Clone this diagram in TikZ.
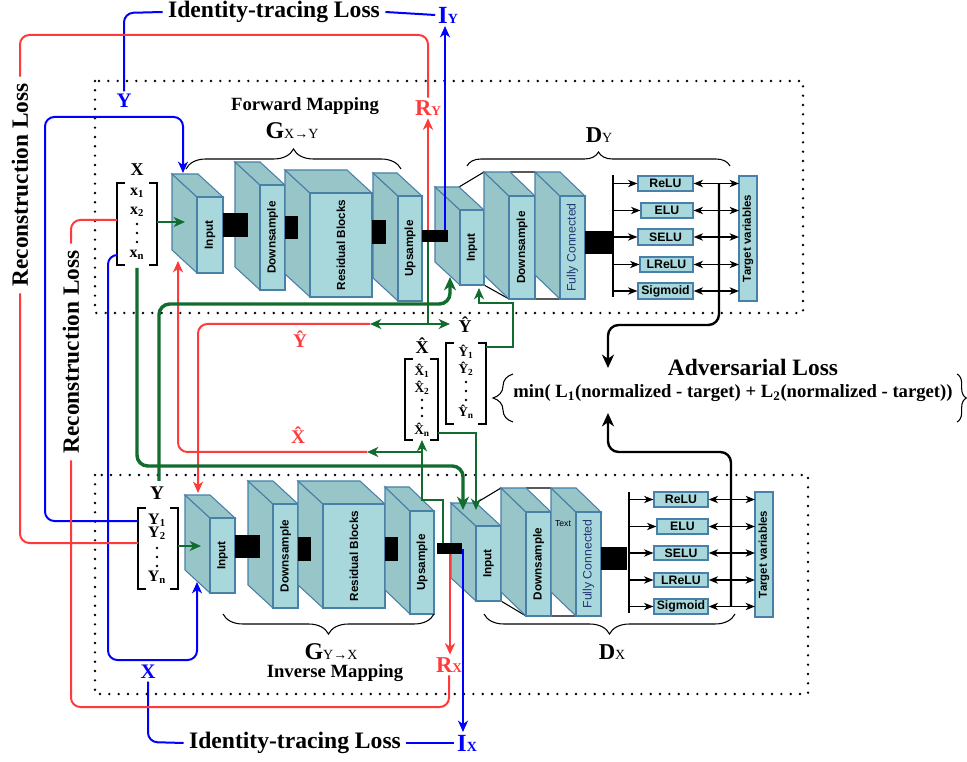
\documentclass[tikz,border=0pt]{standalone}
\usepackage{fontspec}
\setmainfont{Liberation Serif}
\setsansfont{Liberation Sans}
\usetikzlibrary{arrows.meta,decorations.pathreplacing}
\definecolor{frontc}{RGB}{168,216,219}
\definecolor{sidec}{RGB}{151,197,200}
\definecolor{edgec}{RGB}{72,128,168}
\definecolor{bluec}{RGB}{0,0,255}
\definecolor{redc}{RGB}{255,58,58}
\definecolor{greenc}{RGB}{18,108,48}
\definecolor{fcc}{RGB}{35,55,115}
\newcommand{\fsz}[1]{\fontsize{#1}{#1}\selectfont}
\newcommand{\hatc}[1]{\ooalign{#1\cr\hidewidth\raisebox{0.17em}{ˆ}\hidewidth\cr}}
\newcommand{\blk}[7]{%
  \filldraw[blkedge,fill=sidec] (#2,#3) -- (#2-25,#3-#6) -- (#2-25,#5-#6) -- (#2,#5) -- cycle;
  \filldraw[blkedge,fill=sidec] (#2,#3) -- (#2-25,#3-#6) -- (#4-25,#3-#6) -- (#4,#3) -- cycle;
  \filldraw[blkedge,fill=frontc] (#2,#3) rectangle (#4,#5);
  \node[blklabel] (#1) at ({(#2+#4)/2},{(#3+#5)/2}) {#7};}
\newcommand{\actb}[6]{%
  \node[actbox,minimum width={(#4-#2)*0.75pt},minimum height={(#5-#3)*0.75pt}] (#1) at ({(#2+#4)/2},{(#3+#5)/2}) {#6};}
\newcommand{\brk}[4]{%
  \draw[brkline] (#1+8,#2) -- (#1,#2) -- (#1,#4) -- (#1+8,#4) (#3-8,#2) -- (#3,#2) -- (#3,#4) -- (#3-8,#4);}
\newcommand{\tdots}[4]{\fill (#1,#2) circle (1.4) (#1,#3) circle (1.4) (#1,#4) circle (1.4);}
\begin{document}
\begin{tikzpicture}[x=0.75pt,y=-0.75pt,
  dotframe/.style={line width=2pt,dash pattern=on 0pt off 7pt,line cap=round},
  blkedge/.style={draw=edgec,line width=0.8pt},
  blklabel/.style={rotate=90,inner sep=0pt,font=\sffamily\bfseries\fsz{8.8}},
  actbox/.style={draw=edgec,fill=frontc,line width=0.9pt,inner sep=0pt,font=\sffamily\bfseries\fsz{9.2}},
  pyr/.style={line width=0.8pt},
  arw/.style={-{Stealth[length=8.5pt,width=7.5pt,inset=2.5pt]}},
  barw/.style={-{Stealth[length=10pt,width=9pt,inset=3pt]}},
  sarw/.style={-{Stealth[length=7pt,width=5.5pt,inset=2pt]}},
  sdarw/.style={{Stealth[length=7pt,width=5.5pt,inset=2pt]}-{Stealth[length=7pt,width=5.5pt,inset=2pt]}},
  bl/.style={draw=bluec,line width=1.5pt,rounded corners=7pt},
  rd/.style={draw=redc,line width=1.5pt,rounded corners=7pt},
  gthin/.style={draw=greenc,line width=1.5pt},
  gthick/.style={draw=greenc,line width=2.6pt,rounded corners=8pt},
  kline/.style={draw=black,line width=1pt},
  kbold/.style={draw=black,line width=1.8pt,rounded corners=8pt},
  brc/.style={draw=black,line width=0.8pt,decorate,decoration={brace,amplitude=#1}},
  brkline/.style={line width=0.9pt},
  tgstyle/.style={draw=edgec,fill=frontc,line width=0.9pt},
  tglabel/.style={rotate=90,inner sep=0pt,font=\sffamily\bfseries\fsz{8.6}},
]
\useasboundingbox (0,0) rectangle (967,762);
% frames
\draw[dotframe] (95,81) rectangle (803,313);
\draw[dotframe] (95,475) rectangle (808,694);

% perspective lines of the discriminators
\draw[pyr] (459,187) -- (484,172) (484,210) -- (509,196) (484,285) -- (509,299)
  (510,172) -- (535,172) (535,196) -- (560,196) (535,299) -- (560,299);
\draw[pyr] (476,503) -- (501,488) (501,526) -- (526,512) (501,601) -- (526,616)
  (526,488) -- (551,488) (551,512) -- (576,512) (551,616) -- (576,616);

% blocks
\blk{in1}{197}{197}{223}{273}{23}{Input}
\blk{dn1}{260}{185}{285}{290}{23}{Downsample}
\blk{rs1}{310}{193}{372}{297}{23}{Residual Blocks}
\blk{up1}{398}{196}{422}{301}{23}{Upsample}
\blk{dinY}{460}{210}{484}{285}{23}{Input}
\blk{ddnY}{509}{196}{535}{299}{24}{Downsample}
\blk{dfcY}{560}{196}{585}{299}{24}{\mdseries\fsz{9.2}\color{fcc}Fully Connected}
\blk{in2}{210}{518}{235}{593}{23}{Input}
\blk{dn2}{273}{504}{298}{608}{23}{Downsample}
\blk{rs2}{323}{504}{385}{608}{23}{Residual Blocks}
\blk{up2}{410}{511}{434}{614}{24}{Upsample}
\blk{dinX}{476}{526}{501}{601}{23}{Input}
\blk{ddnX}{526}{512}{551}{616}{24}{Downsample}
\blk{dfcX}{576}{512}{601}{616}{24}{\mdseries\fsz{9.2}\color{fcc}Fully Connected}
\node[font=\sffamily\fsz{6.5},inner sep=0pt] (txt) at (563,524) {Text};

% black connectors
\fill (223,213) rectangle (248,237);
\fill (285,216) rectangle (298,239);
\fill (372,220) rectangle (386,244);
\fill (422,230) rectangle (448,242);
\fill (235,535) rectangle (260,558);
\fill (298,537) rectangle (311,561);
\fill (385,537) rectangle (398,561);
\fill (437,543) rectangle (462,554);
\fill (585,231) rectangle (612,254);
\fill (601,547) rectangle (627,570);

% named points
\coordinate (bYr) at (428,230);
\coordinate (bYb) at (445,230);
\coordinate (bYg) at (428,242);
\coordinate (bXg) at (443,543);
\coordinate (bXr) at (450,554);
\coordinate (bXb) at (463,549);
\coordinate (vbY) at (613,175);
\coordinate (vbYb) at (613,297);
\coordinate (vbX) at (629,492);
\coordinate (vbXb) at (629,613);
\coordinate (tgYw) at (739,238);
\coordinate (tgXw) at (755,554);
\coordinate (lossY) at (719,184);
\coordinate (lossX) at (731,606);
\coordinate (advin1) at (608,368);
\coordinate (advin2) at (608,413);
\coordinate (in1tip) at (183,173);
\coordinate (in1in) at (185,222);
\coordinate (in1bot) at (178,261);
\coordinate (in2tip) at (197,582);
\coordinate (in2in) at (201,546);
\coordinate (in2top) at (198,493);
\coordinate (dinYb1) at (450,277);
\coordinate (dinYb2) at (479,288);
\coordinate (dinXt1) at (463,510);
\coordinate (dinXt2) at (476,510);
\coordinate (Xbl) at (117,220);
\coordinate (Xbl2) at (117,255);
\coordinate (Xbr) at (157,222);
\coordinate (Xbb) at (137,268);
\coordinate (Ybl) at (138,521);
\coordinate (Ybin) at (138,543);
\coordinate (Ybr) at (178,546);
\coordinate (Ytt) at (159,481);
\coordinate (Yhr) at (486,347);
\coordinate (Xhr) at (438,433);
\coordinate (Xhb) at (422,440);
\coordinate (gYj) at (428,324);
\coordinate (gYl) at (370,324);
\coordinate (gYr) at (450,324);
\coordinate (gXj) at (422,452);
\coordinate (gXl) at (367,452);

\draw[line width=2pt] (vbY) -- (vbYb);
\draw[line width=2pt] (vbX) -- (vbXb);

% activation boxes (D_Y)
\actb{reluY}{638}{176}{693}{191}{ReLU}
\actb{eluY}{641}{203}{693}{218}{ELU}
\actb{seluY}{638}{229}{693}{245}{SELU}
\actb{lreluY}{640}{257}{693}{272}{LReLU}
\actb{sigY}{638}{283}{693}{299}{Sigmoid}
\draw[tgstyle] (739,176) rectangle (757,301);
\node[tglabel] (tgY) at (748,238.5) {Target variables};
% activation boxes (D_X)
\actb{reluX}{654}{492}{708}{507}{ReLU}
\actb{eluX}{657}{519}{708}{534}{ELU}
\actb{seluX}{654}{546}{708}{560}{SELU}
\actb{lreluX}{654}{573}{708}{587}{LReLU}
\actb{sigX}{654}{599}{708}{614}{Sigmoid}
\draw[tgstyle] (755,492) rectangle (773,617);
\node[tglabel] (tgX) at (764,554.5) {Target variables};
\foreach \n in {reluY,eluY,seluY,lreluY,sigY}{
  \draw[kline,sarw] (vbY |- \n.west) -- (\n.west);
  \draw[kline,sdarw] (\n.east) -- (\n.east -| tgYw);
}
\foreach \n in {reluX,eluX,seluX,lreluX,sigX}{
  \draw[kline,sarw] (vbX |- \n.west) -- (\n.west);
  \draw[kline,sdarw] (\n.east) -- (\n.east -| tgXw);
}

% braces
\draw[brc=15pt] (186,169) -- (401,169);
\draw[brc=10.5pt] (467,166) -- (730,166);
\draw[brc=15pt] (434,614) -- (223,614);
\draw[brc=15pt] (735,614) -- (484,614);
\draw[brc=15pt] (513,422) -- (513,374);
\draw[brc=7pt] (957,374) -- (957,422);

% vector boxes
\brk{117}{183}{157}{265}
\brk{138}{508}{178}{589}
\brk{405}{359}{438}{440}
\brk{446}{343}{486}{424}

% text labels
\node[text=bluec,font=\bfseries\fsz{15.5},inner sep=2pt] (Ytop) at (124,101) {Y};
\node[font=\bfseries\fsz{17.7},inner sep=4pt] (itT) at (274,12) {Identity-tracing Loss};
\node[text=bluec,font=\bfseries\fsz{18.5},inner sep=2pt] (IY) at (448,15) {I{\fsz{10.5}Y}};
\node[text=redc,font=\bfseries\fsz{17},inner sep=2pt] (RY) at (428,108) {R{\fsz{10}Y}};
\node[rotate=90,font=\bfseries\fsz{17.5},inner sep=5pt] (recA) at (20,185) {Reconstruction Loss};
\node[rotate=90,font=\bfseries\fsz{17.5},inner sep=5pt] (recB) at (71,352) {Reconstruction Loss};
\node[font=\bfseries\fsz{14}] (fwd) at (305,106) {Forward Mapping};
\node[font=\bfseries\fsz{18}] (Gxy) at (292,131) {G{\mdseries\fsz{10.5}X→Y}};
\node[font=\bfseries\fsz{17}] (Dy) at (599,135) {D{\mdseries\fsz{10.5}Y}};
\node[font=\bfseries\fsz{18}] (Gyx) at (331,652) {G{\mdseries\fsz{10.5}Y→X}};
\node[font=\bfseries\fsz{14}] (inv) at (335,673) {Inverse Mapping};
\node[font=\bfseries\fsz{17}] (Dx) at (612,652) {D{\mdseries\fsz{10.5}X}};
\node[text=bluec,font=\bfseries\fsz{15.5},inner sep=2pt] (Xbot) at (148,672) {X};
\node[font=\bfseries\fsz{17.7},inner sep=4pt] (itB) at (295,743) {Identity-tracing Loss};
\node[text=bluec,font=\bfseries\fsz{18.5},inner sep=2pt] (IX) at (467,743) {I{\fsz{10.5}X}};
\node[text=redc,font=\bfseries\fsz{17},inner sep=2pt] (RX) at (449,665) {R{\fsz{10}X}};

\node[font=\bfseries\fsz{13.5}] (Xlab) at (137,170) {X};
\node[font=\bfseries\fsz{12}] (x1) at (137,193) {x\textsubscript{1}};
\node[font=\bfseries\fsz{12}] (x2) at (137,212) {x\textsubscript{2}};
\tdots{137}{224}{233}{242}
\node[font=\bfseries\fsz{12}] (xn) at (137,255) {x\textsubscript{n}};

\node[font=\bfseries\fsz{14.5}] (Ylab) at (157,493) {Y};
\node[font=\bfseries\fsz{12}] (y1) at (157,520) {Y\textsubscript{1}};
\node[font=\bfseries\fsz{12}] (y2) at (157,533) {Y\textsubscript{2}};
\tdots{157}{548}{557}{566}
\node[font=\bfseries\fsz{12}] (yn) at (157,577) {Y\textsubscript{n}};

\node[font=\bfseries\fsz{13.5}] (Xhat) at (422,348) {\hatc{X}};
\node[font=\bfseries\fsz{10}] (xh1) at (422,372) {\hatc{X}\textsubscript{1}};
\node[font=\bfseries\fsz{10}] (xh2) at (422,389) {\hatc{X}\textsubscript{2}};
\tdots{422}{400}{408}{416}
\node[font=\bfseries\fsz{10}] (xhn) at (422,431) {\hatc{X}\textsubscript{n}};

\node[font=\bfseries\fsz{13.5}] (Yhat) at (465,327) {\hatc{Y}};
\node[font=\bfseries\fsz{10}] (yh1) at (466,353) {\hatc{Y}\textsubscript{1}};
\node[font=\bfseries\fsz{10}] (yh2) at (466,370) {\hatc{Y}\textsubscript{2}};
\tdots{466}{382}{391}{400}
\node[font=\bfseries\fsz{10}] (yhn) at (466,413) {\hatc{Y}\textsubscript{n}};

\node[text=redc,font=\bfseries\fsz{14.5}] (rYhat) at (300,341) {\hatc{Y}};
\node[text=redc,font=\bfseries\fsz{14.5}] (rXhat) at (298,437) {\hatc{X}};

\node[font=\bfseries\fsz{17.6}] (adv) at (753,367) {Adversarial Loss};
\node[font=\bfseries\fsz{14}] (form) at (733,393) {min( L\textsubscript{1}(normalized - target) + L\textsubscript{2}(normalized - target))};

% blue connectors
\draw[bl] (Ytop.north) -- (124,13) -- (itT.west);
\draw[bl] (itT.east) -- (IY.west);
\draw[bl,arw] (bYb) -- (bYb |- IY.south);
\draw[bl,arw] (Ybl) -- (45,521) -- (45,117) -- (183,117) -- (in1tip);
\draw[bl,arw] (Xbl2) -- (108,255) -- (108,660) -- (197,660) -- (in2tip);
\draw[bl] (Xbot.south) -- (148,742) -- (itB.west);
\draw[bl] (itB.east) -- (IX.west);
\draw[bl,arw] (bXb) -- (bXb |- IX.north);

% red connectors
\draw[rd] (recA.east) -- (20,35) -- (428,35) -- (RY.north);
\draw[rd,arw] (bYr) -- (RY.south);
\draw[rd] (recA.west) -- (20,543) -- (Ybin);
\draw[rd] (recB.east) -- (71,220) -- (Xbl);
\draw[rd] (recB.west) -- (71,707) -- (449,707) -- (RX.south);
\draw[rd,arw] (bXr) -- (bXr |- RX.north);
\draw[rd,arw] (gYl) -- (198,324) -- (in2top);
\draw[rd,arw] (gXl) -- (178,452) -- (in1bot);

% green connectors
\draw[gthin,arw] (Xbr) -- (in1in);
\draw[gthin,arw] (Ybr) -- (in2in);
\draw[gthick,barw] (Xbb) -- (137,466) -- (463,466) -- (dinXt1);
\draw[gthick,barw] (Ytt) -- (159,304) -- (450,304) -- (dinYb1);
\draw[gthin] (bYg) -- (gYj);
\draw[gthin,arw] (gYj) -- (gYl);
\draw[gthin,arw] (gYj) -- (gYr);
\draw[gthin,arw] (Yhr) -- (513,347) -- (513,303) -- (479,303) -- (dinYb2);
\draw[gthin,arw] (bXg) -- (443,500) -- (422,500) -- (Xhb);
\draw[gthin,arw] (gXj) -- (gXl);
\draw[gthin,arw] (Xhr) -- (476,433) -- (dinXt2);

% adversarial loss connectors
\draw[kbold,barw] (lossY) -- (719,325) -- (608,325) -- (advin1);
\draw[kbold,barw] (lossX) -- (731,452) -- (608,452) -- (advin2);
\end{tikzpicture}
\end{document}
